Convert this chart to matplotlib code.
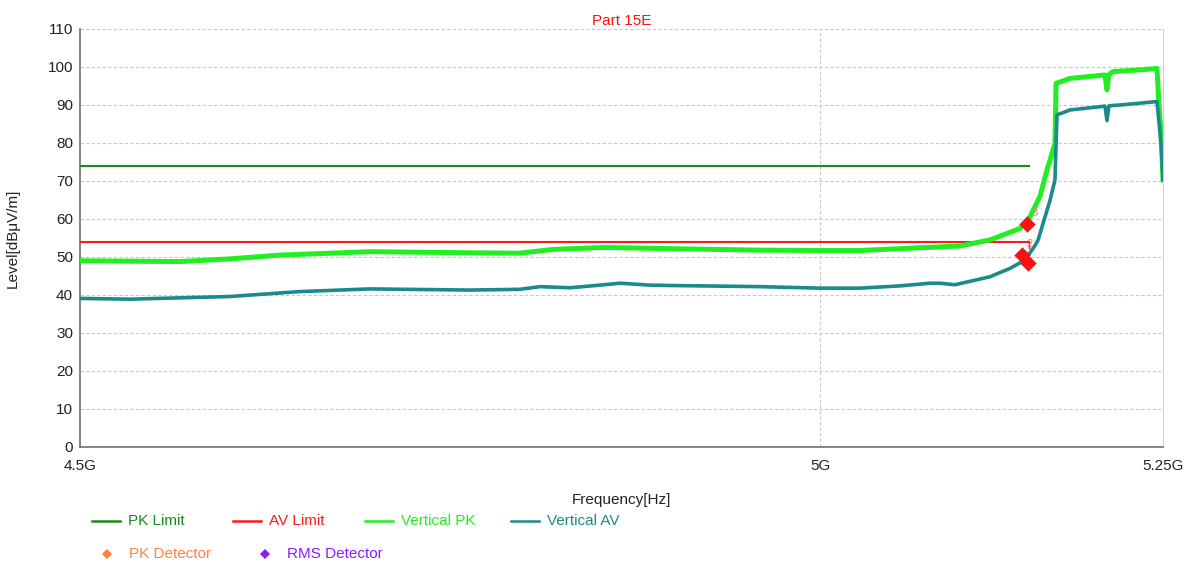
import matplotlib
matplotlib.use("Agg")
import matplotlib.pyplot as plt
from matplotlib.lines import Line2D
from matplotlib.ticker import FixedLocator, NullLocator

plt.rcParams['font.family'] = ['Liberation Sans', 'DejaVu Sans']

# ---- data (frequency in GHz, level in dBuV/m) ----
pk_freq = [4.500, 4.532, 4.5645, 4.597, 4.630, 4.663, 4.6896, 4.7569, 4.7908, 4.8134,
           4.8478, 4.8942, 4.9573, 5.000, 5.0284, 5.0571, 5.1005, 5.1223, 5.1442, 5.1516,
           5.1589, 5.1641, 5.1663, 5.1699, 5.1707, 5.1810, 5.2068, 5.2083, 5.2098, 5.2128,
           5.2306, 5.2455, 5.2470, 5.2485, 5.2500]
pk_level = [49.0, 48.9, 48.8, 49.5, 50.5, 51.0, 51.4, 51.1, 51.0, 52.0,
            52.5, 52.2, 51.8, 51.7, 51.7, 52.2, 52.9, 54.5, 57.5, 60.6,
            66.0, 73.0, 75.5, 80.0, 95.7, 97.0, 97.9, 94.0, 98.0, 98.8,
            99.2, 99.6, 90.0, 83.0, 70.3]

av_freq = [4.500, 4.532, 4.597, 4.6431, 4.6896, 4.7569, 4.7908, 4.8045, 4.8250, 4.8457,
           4.8595, 4.8803, 4.8942, 4.9573, 5.000, 5.0284, 5.0571, 5.0787, 5.0859, 5.0968,
           5.1223, 5.1369, 5.1479, 5.1552, 5.1575, 5.1663, 5.1699, 5.1707, 5.1714, 5.1810,
           5.2068, 5.2083, 5.2098, 5.2180, 5.2455, 5.2485, 5.2500]
av_level = [39.1, 38.9, 39.6, 40.9, 41.6, 41.3, 41.5, 42.2, 41.9, 42.6,
            43.1, 42.6, 42.5, 42.2, 41.8, 41.8, 42.4, 43.1, 43.1, 42.7,
            44.8, 47.0, 49.2, 53.0, 54.5, 65.0, 70.3, 80.0, 87.4, 88.7,
            89.7, 85.9, 89.8, 90.0, 90.9, 80.0, 70.3]

limit_freq = [4.5, 5.1508]
pk_limit = [74, 74]
av_limit = [54, 54]
av_limit_step = [54, 52.5]

marker_freq = [5.1494, 5.1457, 5.1501]
marker_level = [58.7, 50.5, 48.5]
marker_labels = ['3', '2', '']

x_ticks = [4.5, 5.0, 5.25]
x_tick_labels = ['4.5G', '5G', '5.25G']
y_ticks = list(range(0, 111, 10))

# ---- figure ----
fig = plt.figure(figsize=(11.93, 5.65), dpi=100)
ax = fig.add_axes([80/1193, 1-447/565, (1163-80)/1193, (447-29)/565])

c_pkl = '#1a8a1a'
c_avl = '#ff1a1a'
c_vpk = '#22ee22'
c_vav = '#1a8a8a'

ax.plot(limit_freq, pk_limit, color=c_pkl, lw=1.5, zorder=3)
ax.plot(limit_freq, av_limit, color=c_avl, lw=1.5, zorder=3)
ax.plot([limit_freq[1], limit_freq[1]], av_limit_step, color=c_avl, lw=1.0, zorder=3)
ax.plot(pk_freq, pk_level, color=c_vpk, lw=3.6, zorder=4, solid_joinstyle='round')
ax.plot(av_freq, av_level, color=c_vav, lw=2.6, zorder=5, solid_joinstyle='round')
ax.scatter(marker_freq, marker_level, marker='D', s=70, color='#ff1010', zorder=6, linewidths=0)
for f, l, t in zip(marker_freq, marker_level, marker_labels):
    if t:
        ax.annotate(t, (f, l), xytext=(3, 6), textcoords='offset points',
                    color='#ff7070', fontsize=8, zorder=7)

ax.set_xscale('log')
ax.set_xlim(4.5, 5.25)
ax.set_ylim(0, 110)
ax.xaxis.set_major_locator(FixedLocator(x_ticks))
ax.xaxis.set_minor_locator(NullLocator())
ax.set_xticklabels(x_tick_labels)
ax.set_yticks(y_ticks)
ax.tick_params(axis='both', length=0, labelsize=11, colors='#222222')
ax.tick_params(axis='x', pad=9)
ax.tick_params(axis='y', pad=5)

ax.grid(True, axis='y', color='#c8c8c8', ls=(0, (3, 2)), lw=0.8)
ax.grid(False, axis='x')
ax.axvline(5.0, color='#c8c8c8', ls=(0, (3, 2)), lw=0.8, zorder=1)

ax.spines['top'].set_visible(False)
ax.spines['right'].set_color('#d0d0d0')
ax.spines['left'].set_color('#707070')
ax.spines['bottom'].set_color('#707070')
ax.spines['left'].set_linewidth(1.2)
ax.spines['bottom'].set_linewidth(1.2)

ax.set_title('Part 15E', color='#ff1010', fontsize=11, pad=3)
ax.set_xlabel('Frequency[Hz]', fontsize=11, color='#222222', labelpad=14)
ax.set_ylabel('Level[dBμV/m]', fontsize=11, color='#222222', labelpad=20)

# ---- legend (manual) ----
def fx(px):
    return px / 1193
def fy(py):
    return 1 - py / 565

row1 = [('PK Limit', c_pkl, 92), ('AV Limit', c_avl, 233),
        ('Vertical PK', c_vpk, 365), ('Vertical AV', c_vav, 511)]
for name, col, x0 in row1:
    fig.add_artist(Line2D([fx(x0), fx(x0 + 28)], [fy(521), fy(521)], color=col, lw=1.8))
    fig.text(fx(x0 + 36), fy(521), name, color=col, fontsize=11, va='center', ha='left')

row2 = [('PK Detector', '#ff8040', 107), ('RMS Detector', '#8a1aff', 265)]
for name, col, x0 in row2:
    fig.add_artist(Line2D([fx(x0)], [fy(554)], marker='D', ms=5, color=col, lw=0, mew=0))
    fig.text(fx(x0 + 22), fy(554), name, color=col, fontsize=11, va='center', ha='left')

fig.savefig('out.png', dpi=100)
